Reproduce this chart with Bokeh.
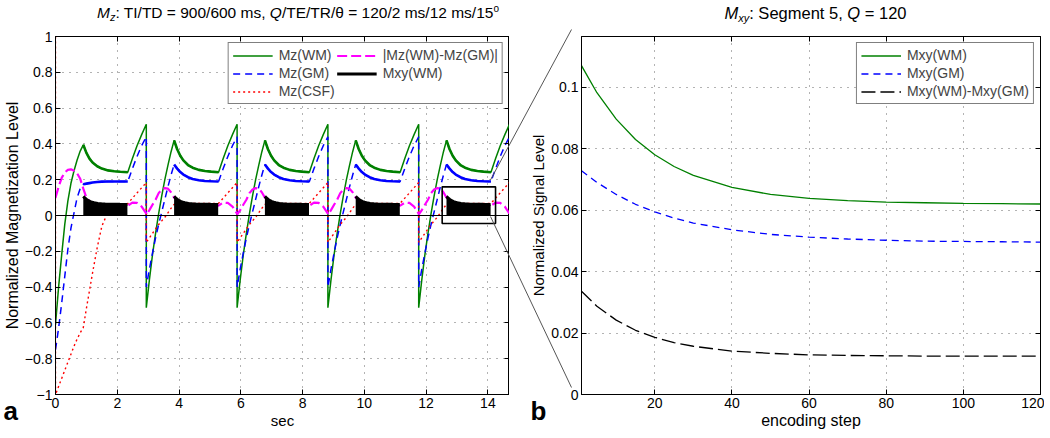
from bokeh.plotting import figure
from bokeh.models import (Range1d, LinearAxis, FixedTicker, Span, Legend, LegendItem,
                          Div, GridBox)
from bokeh.layouts import column
from bokeh.core.properties import value
from bokeh.embed import file_html
from bokeh.resources import INLINE

FONT = "Liberation Sans"

# ---------------- data ----------------
CYCLE_LEN = 2.94      # s: TI + readout + TD
N_CYCLES = 5
TI_END = 0.9          # readout start inside a cycle (s)
TR = 0.012            # s per encoding step
ZOOM_SEGMENT = 5

# time breakpoints inside one cycle (s)
TI_T = [0.0, 0.1, 0.2, 0.3, 0.4, 0.5, 0.6, 0.7, 0.8, 0.9]
RO_T = [0.9, 1.0, 1.1, 1.2, 1.35, 1.5, 1.7, 1.9, 2.1, 2.34]
TD_T = [2.34, 2.49, 2.64, 2.79, 2.94]

# Mz(WM)
WM_TI0 = [-0.61, -0.40, -0.22, -0.05, 0.08, 0.18, 0.25, 0.31, 0.36, 0.395]
WM_RO0 = [0.395, 0.35, 0.318, 0.296, 0.275, 0.262, 0.252, 0.247, 0.244, 0.242]
WM_TI = [-0.515, -0.36, -0.22, -0.10, 0.01, 0.11, 0.20, 0.28, 0.355, 0.42]
WM_RO = [0.42, 0.37, 0.334, 0.308, 0.282, 0.267, 0.255, 0.249, 0.245, 0.242]
WM_TD = [0.242, 0.318, 0.39, 0.452, 0.51]
# Mz(GM)
GM_TI0 = [-0.75, -0.63, -0.49, -0.34, -0.19, -0.07, 0.015, 0.10, 0.15, 0.175]
GM_RO0 = [0.175, 0.178, 0.181, 0.184, 0.187, 0.189, 0.19, 0.19, 0.19, 0.19]
GM_TI = [-0.40, -0.30, -0.21, -0.125, -0.05, 0.02, 0.09, 0.16, 0.225, 0.285]
GM_RO = [0.285, 0.262, 0.243, 0.229, 0.214, 0.204, 0.197, 0.193, 0.191, 0.19]
GM_TD = [0.19, 0.262, 0.33, 0.39, 0.44]
# Mz(CSF)
CSF_START = 1.0
CSF_TI0 = [-1.0, -0.955, -0.91, -0.865, -0.82, -0.775, -0.73, -0.69, -0.655, -0.626]
CSF_RO0 = [-0.626, -0.52, -0.42, -0.32, -0.18, -0.06, 0.02, 0.045, 0.06, 0.066]
CSF_TI = [-0.15, -0.125, -0.10, -0.075, -0.05, -0.03, -0.01, 0.015, 0.04, 0.062]
CSF_RO = [0.062, 0.064, 0.066, 0.067, 0.068, 0.068, 0.068, 0.068, 0.068, 0.068]
CSF_TD = [0.068, 0.097, 0.126, 0.155, 0.184]
# |Mz(WM)-Mz(GM)|
MAG_TI0 = [0.10, 0.16, 0.21, 0.24, 0.255, 0.258, 0.25, 0.235, 0.205, 0.15]
MAG_RO0 = [0.15, 0.10, 0.08, 0.07, 0.065, 0.062, 0.061, 0.06, 0.058, 0.055]
MAG_TI = [0.005, 0.03, 0.06, 0.088, 0.125, 0.145, 0.153, 0.15, 0.13, 0.10]
MAG_RO = [0.10, 0.085, 0.075, 0.068, 0.064, 0.062, 0.061, 0.06, 0.058, 0.055]
MAG_TD = [0.055, 0.072, 0.07, 0.05, 0.01]

# Mxy during one readout segment (panel b)
STEPS = [1, 5, 10, 15, 20, 25, 30, 40, 50, 60, 70, 80, 90, 100, 110, 120]
MXY_WM = [0.107, 0.0982, 0.0896, 0.0830, 0.0780, 0.0742, 0.0713, 0.0674, 0.0651,
          0.0638, 0.0631, 0.0626, 0.0624, 0.0622, 0.0621, 0.0620]
MXY_GM = [0.0728, 0.0690, 0.0651, 0.0619, 0.0594, 0.0574, 0.0558, 0.0536, 0.0521,
          0.0512, 0.0506, 0.0502, 0.0499, 0.0498, 0.0497, 0.0496]
MXY_DIFF = [0.0336, 0.0287, 0.0242, 0.0209, 0.0186, 0.0169, 0.0157, 0.0141, 0.0134,
            0.0129, 0.0127, 0.0126, 0.0125, 0.0125, 0.0125, 0.0125]

X_TICKS_L = [0, 2, 4, 6, 8, 10, 12, 14]
Y_TICKS_L = [-1, -0.8, -0.6, -0.4, -0.2, 0, 0.2, 0.4, 0.6, 0.8, 1]
X_TICKS_R = [20, 40, 60, 80, 100, 120]
Y_TICKS_R = [0, 0.02, 0.04, 0.06, 0.08, 0.1]

# ---------------- layout constants (pixels) ----------------
TITLE_H = 16
BORDER_TOP = 10
Y_SHIFT = 3            # extra offset observed between title row and plot frame
FRAME_H = 358
BORDER_BOTTOM = 35
L_BORDER_LEFT, L_FRAME_W, L_BORDER_RIGHT = 50, 454, 0
R_BORDER_LEFT, R_FRAME_W, R_BORDER_RIGHT = 67, 459, 4

XL = (0, N_CYCLES * CYCLE_LEN)
YL = (-1, 1)
XR = (1, 120)
YR = (0, 0.1165)

GREEN, BLUE, RED, MAGENTA = "#008000", "#0000ff", "#ff0000", "#ff00ff"
GRID_C = "#666666"


def build(ti0, ro0, ti, ro, td, start=None):
    t, v = [], []
    if start is not None:
        t.append(0.0)
        v.append(start)
    for k in range(N_CYCLES):
        s = k * CYCLE_LEN
        a, b = (ti0, ro0) if k == 0 else (ti, ro)
        t += [s + x for x in TI_T] + [s + x for x in RO_T[1:]] + [s + x for x in TD_T[1:]]
        v += list(a) + list(b[1:]) + list(td[1:])
    return t, v


def readouts(ro0, ro):
    xs, ys = [], []
    for k in range(N_CYCLES):
        s = k * CYCLE_LEN
        xs.append([s + x for x in RO_T])
        ys.append(list(ro0 if k == 0 else ro))
    return xs, ys


def style_axis(ax, ticks, overrides=None, label=None, label_size="15px"):
    ax.ticker = FixedTicker(ticks=ticks)
    ax.major_tick_in = 5
    ax.major_tick_out = 0
    ax.minor_tick_line_color = None
    ax.axis_line_color = "black"
    ax.major_tick_line_color = "black"
    ax.major_label_text_font = FONT
    ax.major_label_text_font_size = "14px"
    ax.major_label_text_color = "black"
    ax.major_label_standoff = 3
    if overrides:
        ax.major_label_overrides = overrides
    if label is not None:
        ax.axis_label = label
        ax.axis_label_text_font = FONT
        ax.axis_label_text_font_size = label_size
        ax.axis_label_text_font_style = "normal"
        ax.axis_label_text_color = "black"
        ax.axis_label_standoff = 1


def mirror_axis(p, ticks, side):
    # ticks only (drawn as minor ticks so that no labels exist)
    ax = LinearAxis(ticker=FixedTicker(ticks=[], minor_ticks=ticks),
                    major_tick_in=0, major_tick_out=0,
                    minor_tick_in=5, minor_tick_out=0, minor_tick_line_color="black",
                    major_label_standoff=0, axis_line_color="black")
    p.add_layout(ax, side)


def make_fig(frame_w, bl, br, xr, yr):
    p = figure(frame_width=frame_w, frame_height=FRAME_H, title=None,
               x_range=Range1d(*xr), y_range=Range1d(*yr),
               output_backend="svg", toolbar_location=None,
               min_border_left=bl, min_border_right=br,
               min_border_top=BORDER_TOP, min_border_bottom=BORDER_BOTTOM,
               background_fill_color="white", border_fill_color="white",
               outline_line_color="black")
    return p


# ---------------- panel a ----------------
pL = make_fig(L_FRAME_W, L_BORDER_LEFT, L_BORDER_RIGHT, XL, YL)
style_axis(pL.xaxis[0], X_TICKS_L, label="sec")
style_axis(pL.yaxis[0], Y_TICKS_L,
           overrides={t: f"{t:g}".replace("-", "\u2212") for t in Y_TICKS_L},
           label="Normalized Magnetization Level", label_size="16px")
pL.xgrid.ticker = FixedTicker(ticks=X_TICKS_L)
pL.ygrid.ticker = FixedTicker(ticks=Y_TICKS_L)
for g in (pL.xgrid, pL.ygrid):
    g.grid_line_color = GRID_C
    g.grid_line_dash = "1 6"
mirror_axis(pL, X_TICKS_L, "above")
mirror_axis(pL, Y_TICKS_L, "right")

t_wm, v_wm = build(WM_TI0, WM_RO0, WM_TI, WM_RO, WM_TD)
t_gm, v_gm = build(GM_TI0, GM_RO0, GM_TI, GM_RO, GM_TD)
t_csf, v_csf = build(CSF_TI0, CSF_RO0, CSF_TI, CSF_RO, CSF_TD, start=CSF_START)
t_mag, v_mag = build(MAG_TI0, MAG_RO0, MAG_TI, MAG_RO, MAG_TD)

r_wm = pL.line(t_wm, v_wm, line_color=GREEN, line_width=1.5)
xs, ys = readouts(WM_RO0, WM_RO)
pL.multi_line(xs, ys, line_color=GREEN, line_width=2.6)
r_gm = pL.line(t_gm, v_gm, line_color=BLUE, line_width=1.5, line_dash="7 5")
xs, ys = readouts(GM_RO0, GM_RO)
pL.multi_line(xs, ys, line_color=BLUE, line_width=2.6)
r_csf = pL.line(t_csf, v_csf, line_color=RED, line_width=1.4, line_dash="2 3")
r_mag = pL.line(t_mag, v_mag, line_color=MAGENTA, line_width=2.2, line_dash="10 4")

# Mxy(WM) during each readout (black area)
mxy_xs, mxy_ys = [], []
for k in range(N_CYCLES):
    s = k * CYCLE_LEN + TI_END
    tx = [s + (n - 1) * TR for n in STEPS]
    pL.varea(x=tx, y1=[0] * len(tx), y2=MXY_WM, fill_color="black")
    mxy_xs.append(tx)
    mxy_ys.append(MXY_WM)
r_mxy = pL.multi_line(mxy_xs, mxy_ys, line_color="black", line_width=3)

pL.add_layout(Span(location=0, dimension="width", line_color="black", line_width=1))

# zoom box around the readout of segment 5
seg_start = (ZOOM_SEGMENT - 1) * CYCLE_LEN + TI_END
seg_end = seg_start + (STEPS[-1] - 1) * TR
BOX_PAD_X = 0.14
BOX_X0, BOX_X1 = seg_start - BOX_PAD_X, seg_end + BOX_PAD_X + 0.02
BOX_Y0, BOX_Y1 = -0.045, 0.16
pL.quad(left=[BOX_X0], right=[BOX_X1], bottom=[BOX_Y0], top=[BOX_Y1],
        fill_alpha=0, line_color="black", line_width=1.6)

legL = Legend(items=[
    LegendItem(label="Mz(WM)", renderers=[r_wm]),
    LegendItem(label="Mz(GM)", renderers=[r_gm]),
    LegendItem(label="Mz(CSF)", renderers=[r_csf]),
    LegendItem(label="|Mz(WM)-Mz(GM)|", renderers=[r_mag]),
    LegendItem(label="Mxy(WM)", renderers=[r_mxy]),
], location="top_right", nrows=3, orientation="vertical")

# ---------------- panel b ----------------
pR = make_fig(R_FRAME_W, R_BORDER_LEFT, R_BORDER_RIGHT, XR, YR)
style_axis(pR.xaxis[0], X_TICKS_R, label="encoding step", label_size="16px")
style_axis(pR.yaxis[0], Y_TICKS_R,
           overrides={t: f"{t:g}" for t in Y_TICKS_R},
           label="Normalized Signal Level")
pR.xgrid.ticker = FixedTicker(ticks=X_TICKS_R)
pR.ygrid.ticker = FixedTicker(ticks=Y_TICKS_R)
for g in (pR.xgrid, pR.ygrid):
    g.grid_line_color = GRID_C
    g.grid_line_dash = "1 6"
mirror_axis(pR, X_TICKS_R, "above")
mirror_axis(pR, Y_TICKS_R, "right")

q_wm = pR.line(STEPS, MXY_WM, line_color=GREEN, line_width=1.3)
q_gm = pR.line(STEPS, MXY_GM, line_color=BLUE, line_width=1.3, line_dash="7 5")
q_df = pR.line(STEPS, MXY_DIFF, line_color="black", line_width=1.3, line_dash="14 5")
legR = Legend(items=[
    LegendItem(label="Mxy(WM)", renderers=[q_wm]),
    LegendItem(label="Mxy(GM)", renderers=[q_gm]),
    LegendItem(label="Mxy(WM)-Mxy(GM)", renderers=[q_df]),
], location="top_right")

for leg in (legL, legR):
    leg.label_text_font = FONT
    leg.label_text_font_size = "14px"
    leg.label_height = 15
    leg.glyph_height = 15
    leg.glyph_width = 40
    leg.label_standoff = 6
    leg.spacing = 2
    leg.padding = 4
    leg.margin = 6
    leg.border_line_color = "black"
    leg.border_line_width = 1
    leg.background_fill_alpha = 1
pL.add_layout(legL)
pR.add_layout(legR)

# ---------------- titles ----------------
TSTYLE = ("font-family:'Liberation Sans',Arial,sans-serif;line-height:16px;height:16px;"
          "overflow:visible;text-align:center;white-space:nowrap;color:black;")
SUB = "<sub style='font-size:11px;vertical-align:-3px;line-height:0'>"
WL = L_BORDER_LEFT + L_FRAME_W + L_BORDER_RIGHT
WR = R_BORDER_LEFT + R_FRAME_W + R_BORDER_RIGHT
divL = Div(text=(f"<div style=\"{TSTYLE}font-size:15.5px;margin-left:{L_BORDER_LEFT + 16}px;"
                 f"width:{L_FRAME_W}px;\">"
                 f"<i>M{SUB}z</sub></i>: TI/TD = 900/600 ms, "
                 f"<i>Q</i>/TE/TR/\u03b8 = 120/2 ms/12 ms/15"
                 f"<sup style='font-size:10px;line-height:0'>o</sup></div>"),
           width=WL, height=TITLE_H)
divR = Div(text=(f"<div style=\"{TSTYLE}font-size:16.5px;margin-left:{R_BORDER_LEFT}px;"
                 f"width:{R_FRAME_W}px;\">"
                 f"<i>M{SUB}xy</sub></i>: Segment 5, <i>Q</i> = 120</div>"),
           width=WR, height=TITLE_H)

colL = column(divL, pL)
colR = column(divR, pR)

# ---------------- overlay: connectors between panels and panel letters ----------------
TOTAL_W = WL + WR
TOTAL_H = TITLE_H + Y_SHIFT + BORDER_TOP + FRAME_H + BORDER_BOTTOM
L_PX0 = L_BORDER_LEFT
R_PX0 = L_BORDER_LEFT + L_FRAME_W + L_BORDER_RIGHT + R_BORDER_LEFT
PY0 = TITLE_H + Y_SHIFT + BORDER_TOP


def L_to_page(x, y):
    return (L_PX0 + (x - XL[0]) / (XL[1] - XL[0]) * L_FRAME_W,
            PY0 + (YL[1] - y) / (YL[1] - YL[0]) * FRAME_H)


def R_to_page(x, y):
    return (R_PX0 + (x - XR[0]) / (XR[1] - XR[0]) * R_FRAME_W,
            PY0 + (YR[1] - y) / (YR[1] - YR[0]) * FRAME_H)


ov = figure(width=TOTAL_W, height=TOTAL_H, title=None, x_range=Range1d(0, TOTAL_W),
            y_range=Range1d(TOTAL_H, 0),
            min_border=0, min_border_left=0, min_border_right=0,
            min_border_top=0, min_border_bottom=0,
            x_axis_location=None, y_axis_location=None,
            output_backend="svg", toolbar_location=None,
            background_fill_alpha=0, border_fill_alpha=0, outline_line_color=None)
ov.grid.visible = False

pairs = [((BOX_X1, BOX_Y1), (XR[0], YR[1])), ((BOX_X1, BOX_Y0), (XR[0], YR[0]))]
x0s, y0s, x1s, y1s = [], [], [], []
for (bx, by), (rx, ry) in pairs:
    a = L_to_page(bx, by)
    b = R_to_page(rx, ry)
    x0s.append(a[0]); y0s.append(a[1]); x1s.append(b[0]); y1s.append(b[1])
ov.segment(x0=x0s, y0=y0s, x1=x1s, y1=y1s, line_color="#555555", line_width=1)

LETTER_Y = TOTAL_H - 12
ov.text(x=[3, R_PX0 - 41], y=[LETTER_Y, LETTER_Y], text=["a", "b"],
        text_font=value(FONT), text_font_size="26px", text_font_style="bold",
        text_baseline="alphabetic", text_align="left", text_color="black")

grid = GridBox(children=[(colL, 0, 0), (colR, 0, 1), (ov, 0, 0, 1, 2)])

with open("out.html", "w", encoding="utf-8") as f:
    f.write(file_html(grid, INLINE, title="Mz / Mxy"))
